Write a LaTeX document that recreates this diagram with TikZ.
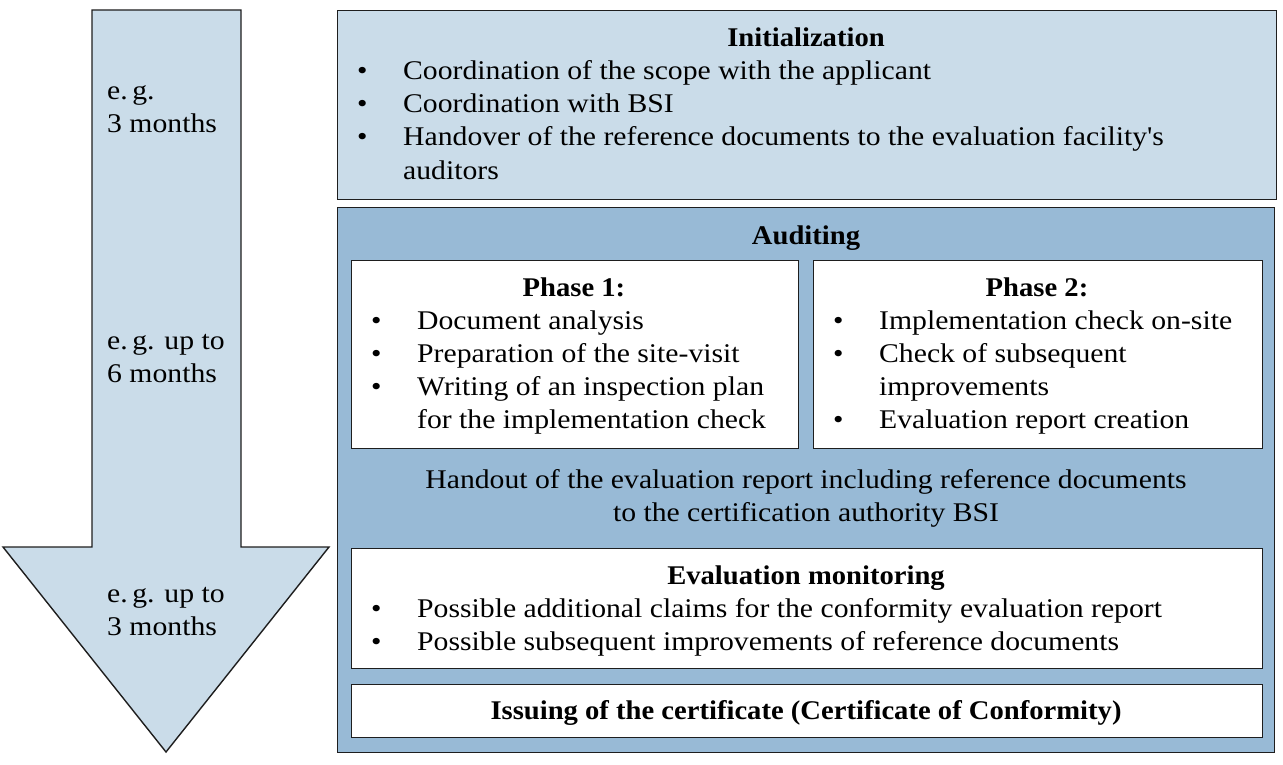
\documentclass[tikz,border=0pt]{standalone}
\usepackage{fontspec}
\setmainfont{Liberation Serif}[Ligatures=TeXOff, FakeStretch=1.1, BoldFeatures={FakeStretch=1.06}]
\definecolor{lightblue}{RGB}{202,220,233}
\definecolor{darkblue}{RGB}{152,186,214}
\definecolor{edge}{RGB}{30,30,30}
\newcommand{\bul}[1]{\makebox[46pt][l]{\textbullet}#1}
\begin{document}
\begin{tikzpicture}[x=1pt,y=-1pt,
  box/.style={draw=edge, line width=1.4pt, inner sep=0pt, anchor=north west},
  txt/.style={inner sep=0pt, anchor=base west, font=\fontsize{27}{33}\selectfont},
  ttl/.style={inner sep=0pt, anchor=base, font=\fontsize{27}{33}\selectfont\bfseries},
  ctr/.style={inner sep=0pt, anchor=base, font=\fontsize{27}{33}\selectfont}]
\useasboundingbox (0,0) rectangle (1283,765);
% arrow
\draw[draw=edge, line width=1.4pt, fill=lightblue, line join=miter]
  (92,10) -- (241,10) -- (241,547) -- (329,547) -- (166,752) -- (3,547) -- (92,547) -- cycle;
\node[txt] (l1a) at (107,100) {e.\,g.};
\node[txt] (l1b) at (107,133) {3 months};
\node[txt] (l2a) at (107,349) {e.\,g. up to};
\node[txt] (l2b) at (107,382) {6 months};
\node[txt] (l3a) at (107,602) {e.\,g. up to};
\node[txt] (l3b) at (107,635) {3 months};
% initialization
\node[box, fill=lightblue, minimum width=939pt, minimum height=189pt] (init) at (337,10) {};
\node[ttl] (initT) at (806,47) {Initialization};
\node[txt] (i1) at (357,80) {\bul{Coordination of the scope with the applicant}};
\node[txt] (i2) at (357,113) {\bul{Coordination with BSI}};
\node[txt] (i3) at (357,146) {\bul{Handover of the reference documents to the evaluation facility's}};
\node[txt] (i4) at (403,179) {auditors};
% auditing
\node[box, fill=darkblue, minimum width=937pt, minimum height=545pt] (aud) at (337,207) {};
\node[ttl] (audT) at (806,244) {Auditing};
\node[box, fill=white, minimum width=447pt, minimum height=188pt] (p1) at (351,260) {};
\node[ttl] (p1T) at (574,296) {Phase 1:};
\node[txt] (p1a) at (371,329) {\bul{Document analysis}};
\node[txt] (p1b) at (371,362) {\bul{Preparation of the site-visit}};
\node[txt] (p1c) at (371,395) {\bul{Writing of an inspection plan}};
\node[txt] (p1d) at (417,428) {for the implementation check};
\node[box, fill=white, minimum width=449pt, minimum height=188pt] (p2) at (813,260) {};
\node[ttl] (p2T) at (1037,296) {Phase 2:};
\node[txt] (p2a) at (833,329) {\bul{Implementation check on-site}};
\node[txt] (p2b) at (833,362) {\bul{Check of subsequent}};
\node[txt] (p2c) at (879,395) {improvements};
\node[txt] (p2d) at (833,428) {\bul{Evaluation report creation}};
\node[ctr] (h1) at (806,488) {Handout of the evaluation report including reference documents};
\node[ctr] (h2) at (806,521) {to the certification authority BSI};
\node[box, fill=white, minimum width=911pt, minimum height=120pt] (em) at (351,548) {};
\node[ttl] (emT) at (806,584) {Evaluation monitoring};
\node[txt] (em1) at (371,617) {\bul{Possible additional claims for the conformity evaluation report}};
\node[txt] (em2) at (371,650) {\bul{Possible subsequent improvements of reference documents}};
\node[box, fill=white, minimum width=911pt, minimum height=53pt] (iss) at (351,684) {};
\node[ttl] (issT) at (806,719) {Issuing of the certificate (Certificate of Conformity)};
\end{tikzpicture}
\end{document}
